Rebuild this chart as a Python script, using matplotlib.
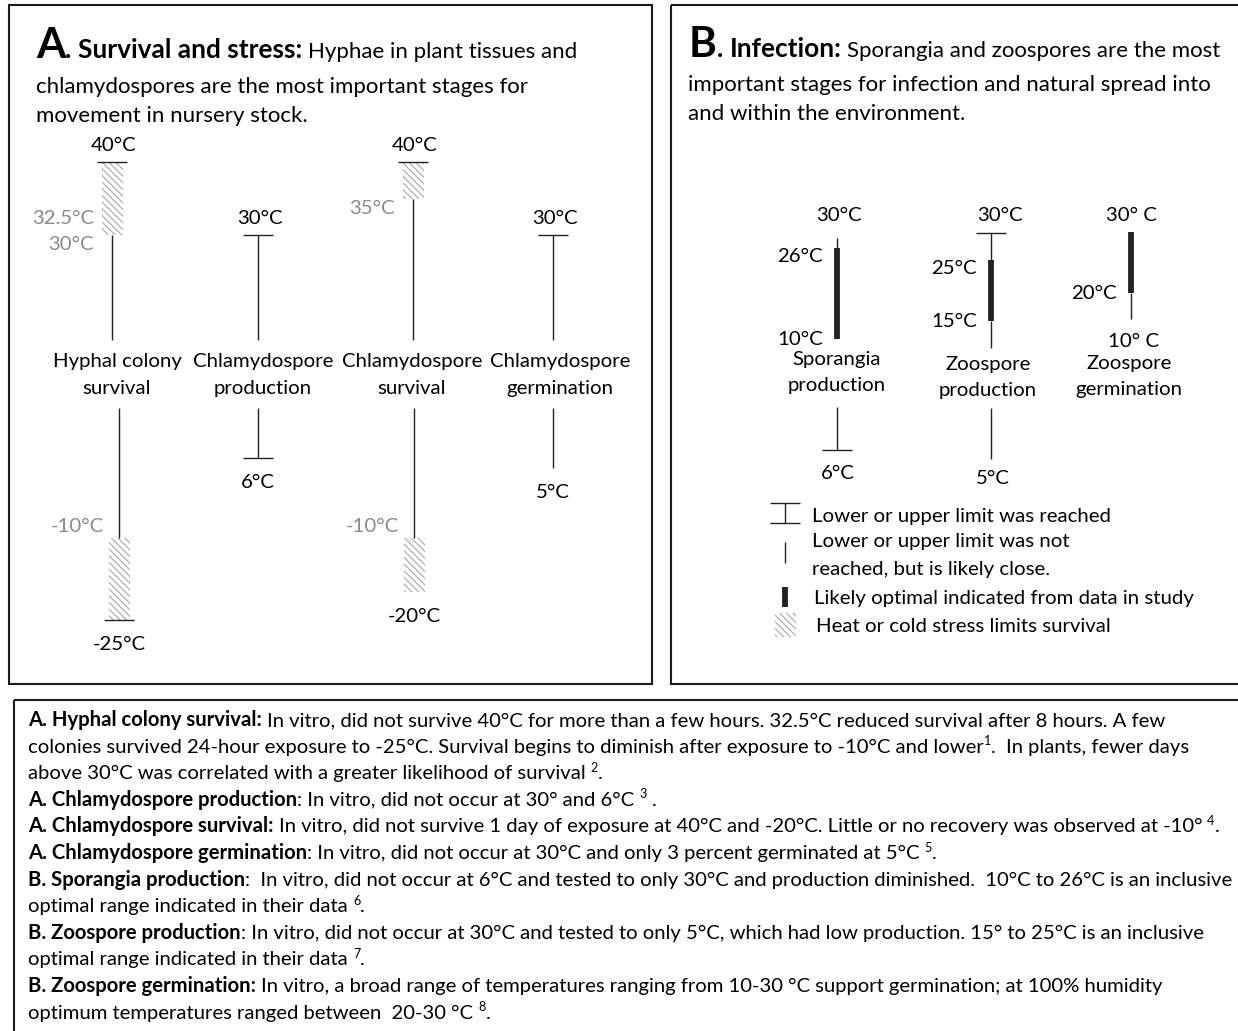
import numpy as np
import matplotlib
matplotlib.use('Agg')
import matplotlib.pyplot as plt
from matplotlib.patches import Rectangle

W, H = 1238, 1031
FAM = ['Lato', 'DejaVu Sans']
plt.rcParams['font.family'] = FAM
plt.rcParams['hatch.linewidth'] = 0.8

# ---------------- data ----------------
a_stages = [['Hyphal colony', 'survival'], ['Chlamydospore', 'production'],
            ['Chlamydospore', 'survival'], ['Chlamydospore', 'germination']]
a_max = [40, 30, 40, 30]
a_min = [-25, 6, -20, 5]
a_min_reached = [True, True, False, False]
a_heat_start = [30, None, 35, None]
a_heat_labels = [['32.5°C', '30°C'], [], ['35°C'], []]
a_cold_start = [-10, None, -10, None]

b_stages = [['Sporangia', 'production'], ['Zoospore', 'production'], ['Zoospore', 'germination']]
b_max = [30, 30, 30]
b_min = [6, 5, 10]
b_opt_hi = [26, 25, 30]
b_opt_lo = [10, 15, 20]
b_max_reached = [False, True, False]
b_min_reached = [True, False, False]
b_min_below_label = [True, True, False]
b_max_text = ['30°C', '30°C', '30° C']
b_min_text = ['6°C', '5°C', '10° C']

legend_texts = [['Lower or upper limit was reached'],
                ['Lower or upper limit was not', 'reached, but is likely close.'],
                ['Likely optimal indicated from data in study'],
                ['Heat or cold stress limits survival']]

title_a = [[('A', 'bold', 'big'), ('.', 'bold', 'hb'), (' Survival and stress:', 'bold', 'hb'), (' Hyphae in plant tissues and', 'normal')],
           [('chlamydospores are the most important stages for', 'normal')],
           [('movement in nursery stock.', 'normal')]]
title_b = [[('B', 'bold', 'big'), ('.', 'bold', 'hb'), (' Infection:', 'bold', 'hb'), (' Sporangia and zoospores are the most', 'normal')],
           [('important stages for infection and natural spread into', 'normal')],
           [('and within the environment.', 'normal')]]

notes = [
    [('A. Hyphal colony survival:', 'bold'), (' In vitro, did not survive 40°C for more than a few hours. 32.5°C reduced survival after 8 hours. A few', 'normal')],
    [('colonies survived 24-hour exposure to -25°C. Survival begins to diminish after exposure to -10°C and lower', 'normal'), ('1', 'normal', 'sup'), ('.  In plants, fewer days', 'normal')],
    [('above 30°C was correlated with a greater likelihood of survival ', 'normal'), ('2', 'normal', 'sup'), ('.', 'normal')],
    [('A. Chlamydospore production', 'bold'), (': In vitro, did not occur at 30° and 6°C ', 'normal'), ('3', 'normal', 'sup'), (' .', 'normal')],
    [('A. Chlamydospore survival:', 'bold'), (' In vitro, did not survive 1 day of exposure at 40°C and -20°C. Little or no recovery was observed at -10° ', 'normal'), ('4', 'normal', 'sup'), ('.', 'normal')],
    [('A. Chlamydospore germination', 'bold'), (': In vitro, did not occur at 30°C and only 3 percent germinated at 5°C ', 'normal'), ('5', 'normal', 'sup'), ('.', 'normal')],
    [('B. Sporangia production', 'bold'), (':  In vitro, did not occur at 6°C and tested to only 30°C and production diminished.  10°C to 26°C is an inclusive', 'normal')],
    [('optimal range indicated in their data ', 'normal'), ('6', 'normal', 'sup'), ('.', 'normal')],
    [('B. Zoospore production', 'bold'), (': In vitro, did not occur at 30°C and tested to only 5°C, which had low production. 15° to 25°C is an inclusive', 'normal')],
    [('optimal range indicated in their data ', 'normal'), ('7', 'normal', 'sup'), ('.', 'normal')],
    [('B. Zoospore germination:', 'bold'), (' In vitro, a broad range of temperatures ranging from 10-30 °C support germination; at 100% humidity', 'normal')],
    [('optimum temperatures ranged between  20-30 °C ', 'normal'), ('8', 'normal', 'sup'), ('.', 'normal')],
]

# ---------------- layout ----------------
A_X_UP = [112, 258, 413, 553]
A_X_LO = [119, 258, 414, 553]
A_LAB_X = [117, 263, 412, 560]
A_GAP = (340, 408)


def yA_up(T):
    return float(np.interp(-T, [-40, -30], [162, 235]))


def yA_lo(T):
    return float(np.interp(-T, [-6, -5, 10, 20, 25], [458, 468, 538, 592, 620]))


B_X = [837, 991, 1131]
B_LAB_X = [837, 988, 1129]
B_MAXLAB_X = [839, 1000, 1131]
B_MINLAB_X = [838, 993, 1133]
B_SCALE = [([6, 10, 26, 30], [450, 339, 248, 238]),
           ([5, 15, 25, 30], [459, 321, 260, 233]),
           ([10, 20, 30], [319, 293, 232])]
B_LAB_BASE = [(365, 391), (370, 396), (369, 395)]
B_MINLAB_BASE = [479, 484, 347]
B_GAP_TOP = [339, 348, None]
B_GAP_BOT = [407, 408, None]


def yB(i, T):
    t, y = B_SCALE[i]
    return float(np.interp(T, t, y))


LINE = '#222222'
GRAY = '#8a8a8a'
HATCH_C = '#a8a8a8'
LW = 1.0

fig = plt.figure(figsize=(W / 100, H / 100), dpi=100)
ax = fig.add_axes([0, 0, 1, 1])
ax.set_xlim(0, W)
ax.set_ylim(H, 0)
ax.axis('off')
fig.canvas.draw()
R = fig.canvas.get_renderer()

_sw_cache = {}


def text_w(s, size, weight='normal'):
    t = ax.text(0, 500, s, fontsize=size, fontweight=weight)
    w = t.get_window_extent(renderer=R).width
    t.remove()
    return w


def space_w(size, weight):
    key = (round(size, 3), weight)
    if key not in _sw_cache:
        _sw_cache[key] = text_w('a a', size, weight) - text_w('aa', size, weight)
    return _sw_cache[key]


def draw_runs(x, y, parts, size, color='black', big=1.0, hb=1.0, dry=False):
    for p in parts:
        s, wt = p[0], p[1]
        kind = p[2] if len(p) > 2 else ''
        scale = {'sup': 0.62, 'big': big, 'hb': hb}.get(kind, 1.0)
        fs = size * scale
        lead = len(s) - len(s.lstrip(' '))
        trail = len(s) - len(s.rstrip(' '))
        core = s.strip(' ')
        sw = space_w(fs, wt)
        x += lead * sw
        if core:
            yy = y - (0.36 * size * 100 / 72 if kind == 'sup' else 0)
            t = ax.text(x, yy, core, fontsize=fs, fontweight=wt, color=color,
                        va='baseline', ha='left')
            x = t.get_window_extent(renderer=R).x1
            if dry:
                t.remove()
        x += trail * sw
    return x


def fit_size(parts, target):
    w = draw_runs(0, 500, parts, 10, dry=True)
    return 10 * target / w


def fit_plain(s, target, weight='normal'):
    return 10 * target / text_w(s, 10, weight)


def hline(x, y, half=15):
    ax.plot([x - half, x + half], [y, y], color=LINE, lw=LW, solid_capstyle='butt')


def vline(x, y0, y1, lw=LW):
    ax.plot([x, x], [y0, y1], color=LINE, lw=lw, solid_capstyle='butt')


def hatch_box(xc, y0, y1, w=21):
    ax.add_patch(Rectangle((xc - w / 2, min(y0, y1)), w, abs(y1 - y0), facecolor='white',
                           edgecolor=HATCH_C, lw=0, hatch='\\\\\\\\\\'))


# ---------------- frames ----------------
frame_kw = dict(fill=False, edgecolor='#1a1a1a', lw=1.5)
ax.add_patch(Rectangle((9, 5), 643, 679, **frame_kw))
ax.add_patch(Rectangle((671, 5), 600, 679, **frame_kw))
ax.add_patch(Rectangle((14, 700), 1260, 360, **frame_kw))

# ---------------- titles ----------------
fs_title = fit_plain('chlamydospores are the most important stages for', 493)
fs_hb = fit_plain('Survival and stress:', 225, 'bold')
HB = fs_hb / fs_title
BIG = 1.9
draw_runs(36, 58, title_a[0], fs_title, big=BIG, hb=HB)
draw_runs(36, 93, title_a[1], fs_title)
draw_runs(36, 122, title_a[2], fs_title)
draw_runs(689, 57, title_b[0], fs_title, big=BIG, hb=HB)
draw_runs(688, 91, title_b[1], fs_title)
draw_runs(688, 120, title_b[2], fs_title)

fs_lab = fit_plain('Chlamydospore', 141)

# ---------------- panel A ----------------
for i in range(4):
    xu, xl = A_X_UP[i], A_X_LO[i]
    ytop = yA_up(a_max[i])
    hline(xu, ytop)
    ax.text(xu + 2, ytop - 11, f'{a_max[i]}°C', fontsize=fs_lab, ha='center', va='baseline')
    ystart = ytop
    if a_heat_start[i] is not None:
        yh = yA_up(a_heat_start[i])
        hatch_box(xu, ytop, yh)
        labs = a_heat_labels[i]
        for k, s in enumerate(labs):
            ax.text(xu - 18, yh + 15 - 26 * (len(labs) - 1 - k), s, fontsize=fs_lab, color=GRAY,
                    ha='right', va='baseline')
        ystart = yh
    vline(xu, ystart, A_GAP[0])
    for k, s in enumerate(a_stages[i]):
        ax.text(A_LAB_X[i], 367 + 27 * k, s, fontsize=fs_lab, ha='center', va='baseline')
    ymin = yA_lo(a_min[i])
    if a_cold_start[i] is not None:
        yc = yA_lo(a_cold_start[i])
        vline(xl, A_GAP[1], yc)
        hatch_box(xl, yc, ymin)
        ax.text(xl - 15, yc - 6, f'{a_cold_start[i]}°C', fontsize=fs_lab, color=GRAY,
                ha='right', va='baseline')
    else:
        vline(xl, A_GAP[1], ymin)
    if a_min_reached[i]:
        hline(xl, ymin)
    ax.text(xl, ymin + 30, f'{a_min[i]}°C', fontsize=fs_lab, ha='center', va='baseline')

# ---------------- panel B ----------------
for i in range(3):
    x = B_X[i]
    ytop = yB(i, b_max[i])
    yhi = yB(i, b_opt_hi[i])
    ylo = yB(i, b_opt_lo[i])
    if b_max_reached[i]:
        hline(x, ytop)
    ax.text(B_MAXLAB_X[i], 221, b_max_text[i], fontsize=fs_lab, ha='center', va='baseline')
    if yhi > ytop:
        vline(x, ytop, yhi)
        ax.text(x - 14, yhi + 14, f'{b_opt_hi[i]}°C', fontsize=fs_lab, ha='right', va='baseline')
    vline(x, yhi, ylo, lw=4.2)
    ax.text(x - 14, ylo + 6, f'{b_opt_lo[i]}°C', fontsize=fs_lab, ha='right', va='baseline')
    if b_min_below_label[i]:
        if B_GAP_TOP[i] > ylo:
            vline(x, ylo, B_GAP_TOP[i])
        ymin = yB(i, b_min[i])
        vline(x, B_GAP_BOT[i], ymin)
        if b_min_reached[i]:
            hline(x, ymin)
    else:
        ymin = yB(i, b_min[i])
        vline(x, ylo, ymin)
    ax.text(B_MINLAB_X[i], B_MINLAB_BASE[i], b_min_text[i], fontsize=fs_lab, ha='center', va='baseline')
    for k, s in enumerate(b_stages[i]):
        ax.text(B_LAB_X[i], B_LAB_BASE[i][k], s, fontsize=fs_lab, ha='center', va='baseline')

# ---------------- legend ----------------
fs_leg = fit_plain(legend_texts[0][0], 300)
hline(785, 503)
hline(785, 523)
vline(785, 503, 523)
vline(785, 542, 563)
vline(785, 587, 607, lw=4.2)
hatch_box(785.5, 613, 637, w=21)
leg_pos = [(812, [522]), (812, [547, 575]), (814, [604]), (816, [632])]
for (lx, ys), lines in zip(leg_pos, legend_texts):
    for yy, s in zip(ys, lines):
        ax.text(lx, yy, s, fontsize=fs_leg, ha='left', va='baseline')

# ---------------- notes ----------------
fs_note = fit_size(notes[0], 1140)
for k, parts in enumerate(notes):
    draw_runs(28, 726 + 26.6 * k, parts, fs_note)

fig.savefig('out.png', dpi=100)
